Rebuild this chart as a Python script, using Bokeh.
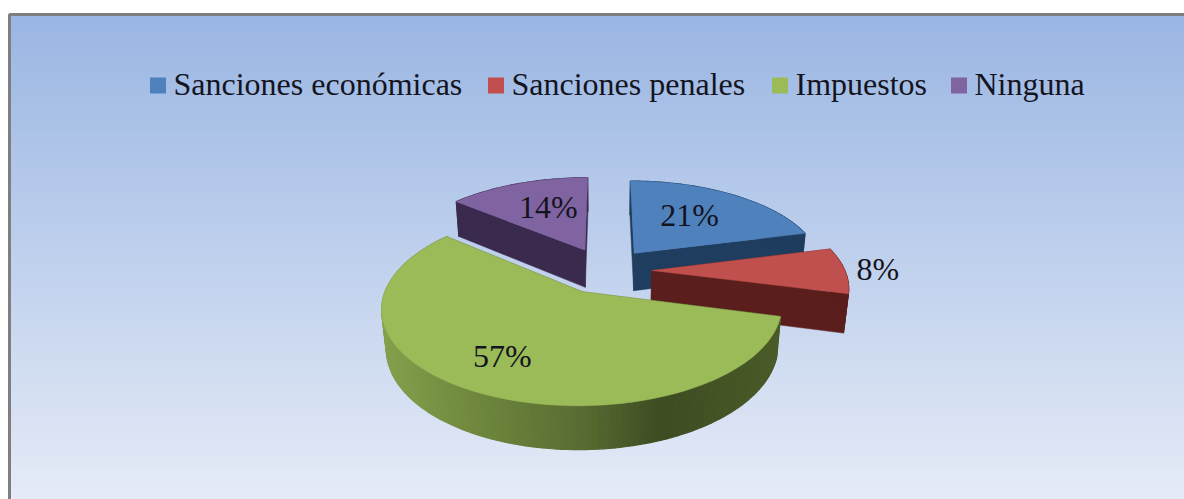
import math
from bokeh.embed import file_html
from bokeh.resources import INLINE
from bokeh.plotting import figure
from bokeh.models import Range1d
from bokeh.core.properties import value

# ---- data ----
categories = ["Sanciones económicas", "Sanciones penales", "Impuestos", "Ninguna"]
shares = [21, 8, 57, 14]
labels = ["21%", "8%", "57%", "14%"]

# ---- style ----
top_colors = ["#4f81bd", "#c0504d", "#9bbb59", "#8064a2"]
wall_colors = ["#1f3d5e", "#5a1f1c", "#4a5c28", "#3a2a4e"]
legend_x = [149.5, 487.5, 771.5, 950.5]
FONT = value("Liberation Serif")
TEXT = "#14141e"
SIZE = "32px"

# ---- projection of the tilted pie ----
CX, CY, K, S, P, D, Q = 605.0, 270.0, 193.0, 0.466, 0.16, 39.0, 0.02
explode = [0.25, 0.24, 0.255, 0.26]
radius = [0.985, 1.0, 0.985, 1.0]
label_r = [0.50, 1.14, 0.77, 0.50]
label_dx = [3, 6, 2, -1]
label_dy = [-7, -2, -11, -8]

def project(X, Y, h=0.0):
    w = 1 - P * Y + Q * h
    return CX + K * X / w, CY + (K * S * Y + h * D) / w

def rim(a, off, rad):
    r = math.radians(a)
    return off[0] + rad * math.sin(r), off[1] - rad * math.cos(r)

W, H = 1184, 499
p = figure(width=W, height=H, x_range=Range1d(0, W), y_range=Range1d(H, 0),
           output_backend="svg", toolbar_location=None, min_border=0,
           outline_line_color=None, background_fill_color="white", border_fill_color="white")
p.axis.visible = False
p.grid.visible = False

# background gradient
top_bg, bot_bg = (154, 182, 227), (229, 235, 247)
ys = list(range(14, 500, 3))
cols = []
for y in ys:
    t = (y - 14) / 485
    cols.append("#%02x%02x%02x" % tuple(round(a + (b - a) * t) for a, b in zip(top_bg, bot_bg)))
p.quad(left=8, right=1184, top=ys, bottom=[y + 3.5 for y in ys], fill_color=cols, line_color=None)
# frame
p.line([9, 9, 1184], [499, 14, 14], line_color="#7f7f7f", line_width=3)

# slice angles from the values
total = sum(shares)
starts, ends, a = [], [], 0.0
for v in shares:
    starts.append(a)
    a += 360.0 * v / total
    ends.append(a)

def offset(i):
    m = math.radians((starts[i] + ends[i]) / 2)
    return explode[i] * math.sin(m), -explode[i] * math.cos(m)

def arc_angles(a0, a1, step=1.5):
    n = max(2, int((a1 - a0) / step))
    return [a0 + (a1 - a0) * j / n for j in range(n + 1)]

def mix(x):
    stops = [(385, (132, 160, 76)), (470, (112, 137, 62)), (580, (88, 108, 50)),
             (660, (62, 76, 34)), (780, (74, 92, 40))]
    if x <= stops[0][0]:
        return stops[0][1]
    for (x0, c0), (x1, c1) in zip(stops, stops[1:]):
        if x <= x1:
            t = (x - x0) / (x1 - x0)
            return tuple(round(u + (v - u) * t) for u, v in zip(c0, c1))
    return stops[-1][1]

def draw_slice(i):
    off = offset(i)
    angs = arc_angles(starts[i], ends[i])
    ring = [rim(t, off, radius[i]) for t in angs]
    apex_t = project(*off)
    apex_b = project(off[0], off[1], 1)
    for e in (ring[0], ring[-1]):
        q = [apex_t, project(*e), project(e[0], e[1], 1), apex_b]
        p.patch([c[0] for c in q], [c[1] for c in q], fill_color=wall_colors[i],
                line_color=wall_colors[i], line_width=0.5)
    for r0, r1 in zip(ring, ring[1:]):
        q = [project(*r0), project(*r1), project(r1[0], r1[1], 1), project(r0[0], r0[1], 1)]
        xm = sum(c[0] for c in q) / 4
        col = "#%02x%02x%02x" % mix(xm) if i == 2 else wall_colors[i]
        p.patch([c[0] for c in q], [c[1] for c in q], fill_color=col, line_color=col, line_width=1.2)
    pts = [apex_t] + [project(*r) for r in ring]
    p.patch([c[0] for c in pts], [c[1] for c in pts], fill_color=top_colors[i],
            line_color=top_colors[i], line_width=0.5)

for i in (3, 0, 1, 2):
    draw_slice(i)

# data labels
lx, ly = [], []
for i in range(4):
    off = offset(i)
    m = math.radians((starts[i] + ends[i]) / 2)
    c = project(off[0] + label_r[i] * math.sin(m), off[1] - label_r[i] * math.cos(m))
    lx.append(c[0] + label_dx[i])
    ly.append(c[1] + label_dy[i])
p.text(lx, ly, text=labels, text_font=FONT, text_font_size=value(SIZE), text_color=TEXT,
       text_align="center", text_baseline="middle")

# legend
p.rect([x + 8 for x in legend_x], [85] * 4, width=16, height=16, fill_color=top_colors, line_color=None)
p.text([x + 23.5 for x in legend_x], [83] * 4, text=categories, text_font=FONT,
       text_font_size=value(SIZE), text_color=TEXT, text_align="left", text_baseline="middle")

open("out.html", "w").write(file_html(p, INLINE))
